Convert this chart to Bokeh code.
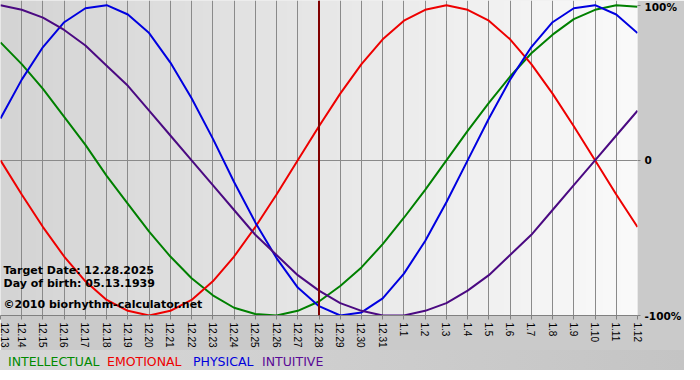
import math
import numpy as np
from bokeh.plotting import figure
from bokeh.layouts import column
from bokeh.models import Range1d, FixedTicker, Label, Span, Div
from bokeh.embed import file_html
from bokeh.resources import INLINE

# ---- data ----
dates = ["12.13", "12.14", "12.15", "12.16", "12.17", "12.18", "12.19", "12.20",
         "12.21", "12.22", "12.23", "12.24", "12.25", "12.26", "12.27", "12.28",
         "12.29", "12.30", "12.31", "1.1", "1.2", "1.3", "1.4", "1.5", "1.6",
         "1.7", "1.8", "1.9", "1.10", "1.11", "1.12"]
target_date = "12.28"

intellectual = [76, 62, 46, 28, 10, -10, -28, -46, -62, -76, -87, -95, -99, -100, -97,
                -91, -81, -69, -54, -37, -19, 0, 19, 37, 54, 69, 81, 91, 97, 100, 99]
emotional = [0, -22, -43, -62, -78, -90, -97, -100, -97, -90, -78, -62, -43, -22, 0,
             22, 43, 62, 78, 90, 97, 100, 97, 90, 78, 62, 43, 22, 0, -22, -43]
physical = [27, 52, 73, 89, 98, 100, 94, 82, 63, 40, 14, -14, -40, -63, -82,
            -94, -100, -98, -89, -73, -52, -27, 0, 27, 52, 73, 89, 98, 100, 94, 82]
intuitive = [100, 97, 92, 84, 74, 61, 48, 32, 16, 0, -16, -32, -48, -61, -74,
             -84, -92, -97, -100, -100, -97, -92, -84, -74, -61, -48, -32, -16, 0, 16, 32]

y_ticks = [-100, 0, 100]
y_tick_labels = ["-100%", "0", "100%"]

series_names = ["INTELLECTUAL", "EMOTIONAL", "PHYSICAL", "INTUITIVE"]
info_lines = ["Target Date: 12.28.2025", "Day of birth: 05.13.1939",
              "\u00a92010 biorhythm-calculator.net"]

# ---- styling ----
colors = ["#008000", "#ee0000", "#0000e0", "#4b0a82"]
legend_colors = ["#008a00", "#ee0000", "#0000dd", "#5a0a96"]
legend_x = [8, 107, 193, 262]
info_y = [45, 32, 11]
W = 684

x = list(range(len(dates)))
series = [intellectual, emotional, physical, intuitive]

p = figure(width=W, height=350,
           x_range=Range1d(x[0], x[-1]), y_range=Range1d(y_ticks[0], y_ticks[-1] + 3),
           output_backend="svg", toolbar_location=None, y_axis_location="right",
           min_border_left=0, min_border_top=0, min_border_right=40, min_border_bottom=29)

p.border_fill_color = "#cacaca"
p.background_fill_color = "#e4e4e4"
p.outline_line_color = None

# horizontal gradient background of plot area
n = 256
g = np.linspace(212, 250, n).astype(np.uint8)
img = np.empty((1, n), dtype=np.uint32)
view = img.view(dtype=np.uint8).reshape((1, n, 4))
view[0, :, 0] = g
view[0, :, 1] = g
view[0, :, 2] = g
view[0, :, 3] = 255
p.image_rgba(image=[img], x=x[0], y=y_ticks[0], dw=x[-1] - x[0],
             dh=y_ticks[-1] + 3 - y_ticks[0], level="image")

# x axis
p.xaxis.ticker = FixedTicker(ticks=x)
p.xaxis.major_label_overrides = {i: d for i, d in enumerate(dates)}
p.xaxis.major_label_orientation = -math.pi / 2
p.xaxis.major_label_text_font = "Liberation Sans"
p.xaxis.major_label_text_font_size = "10px"
p.xaxis.major_label_text_color = "#000000"
p.xaxis.major_label_standoff = 3
p.xaxis.axis_line_color = "#808080"
p.xaxis.major_tick_line_color = "#808080"
p.xaxis.major_tick_out = 4
p.xaxis.major_tick_in = 0
p.xaxis.minor_tick_line_color = None
p.xgrid.grid_line_color = "#8a8a8a"
p.xgrid.grid_line_width = 1

# right y axis
p.yaxis.ticker = FixedTicker(ticks=y_ticks)
p.yaxis.major_label_overrides = {t: l for t, l in zip(y_ticks, y_tick_labels)}
p.yaxis.major_label_text_font = "DejaVu Sans"
p.yaxis.major_label_text_font_style = "bold"
p.yaxis.major_label_text_font_size = "10.5px"
p.yaxis.major_label_text_color = "#000000"
p.yaxis.major_label_standoff = 4
p.yaxis.axis_line_color = None
p.yaxis.major_tick_line_color = "#808080"
p.yaxis.major_tick_out = 3
p.yaxis.major_tick_in = 0
p.yaxis.minor_tick_line_color = None
p.ygrid.ticker = FixedTicker(ticks=[0])
p.ygrid.grid_line_color = "#8a8a8a"

# curves
for vals, c in zip(series, colors):
    p.line(x, vals, line_color=c, line_width=2)

# target date marker
p.add_layout(Span(location=dates.index(target_date), dimension="height",
                  line_color="#800000", line_width=2))

# info text inside plot
for txt, yy in zip(info_lines, info_y):
    p.add_layout(Label(x=3, y=yy, x_units="screen", y_units="screen", text=txt,
                       text_baseline="alphabetic", text_font="DejaVu Sans",
                       text_font_style="bold", text_font_size="11px",
                       text_color="#000000"))

# legend strip below
spans = "".join(
    f'<span style="position:absolute;left:{lx}px;top:4px;line-height:16px;'
    f'white-space:nowrap;color:{c};">{name}</span>'
    for name, c, lx in zip(series_names, legend_colors, legend_x))
legend = Div(text=f'<div style="position:relative;width:{W}px;height:20px;">{spans}</div>',
             width=W, height=20,
             styles={"background": "linear-gradient(to right, #d8d8d8, #c4c4c4)",
                     "font-family": "DejaVu Sans", "font-size": "12.5px",
                     "margin": "0", "padding": "0", "overflow": "hidden"})

layout = column(p, legend, spacing=0)
open("out.html", "w").write(file_html(layout, INLINE))
